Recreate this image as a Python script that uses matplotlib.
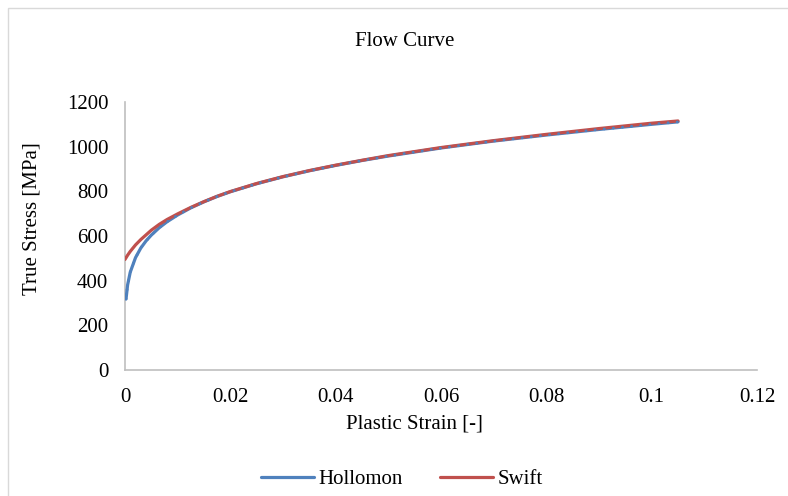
import matplotlib
matplotlib.use("Agg")
import matplotlib.pyplot as plt
from matplotlib.patches import Rectangle

plt.rcParams['font.family'] = ['Liberation Serif', 'DejaVu Serif']

title = "Flow Curve"
x_label = "Plastic Strain [-]"
y_label = "True Stress [MPa]"
series_names = ["Hollomon", "Swift"]

hollomon_strain = [0.0002, 0.0005, 0.001, 0.002, 0.003, 0.004, 0.005, 0.0065, 0.008, 0.01,
                   0.0125, 0.015, 0.0175, 0.02, 0.025, 0.03, 0.035, 0.04, 0.045, 0.05,
                   0.06, 0.07, 0.08, 0.09, 0.1, 0.105]
hollomon_stress = [318, 381, 438, 503, 546, 578, 604, 637, 664, 694,
                   726, 753, 777, 798, 834, 865, 892, 916, 938, 958,
                   994, 1025, 1052, 1077, 1100, 1111]

swift_strain = [0.0, 0.0005, 0.001, 0.002, 0.003, 0.004, 0.005, 0.0065, 0.008, 0.01,
                0.0125, 0.015, 0.0175, 0.02, 0.025, 0.03, 0.035, 0.04, 0.045, 0.05,
                0.06, 0.07, 0.08, 0.09, 0.1, 0.105]
swift_stress = [495, 514, 531, 560, 584, 605, 626, 652, 674, 699,
                728, 754, 778, 799, 835, 866, 893, 917, 939, 960,
                996, 1027, 1055, 1081, 1105, 1115]

x_ticks = [0, 0.02, 0.04, 0.06, 0.08, 0.1, 0.12]
x_tick_labels = ["0", "0.02", "0.04", "0.06", "0.08", "0.1", "0.12"]
y_ticks = [0, 200, 400, 600, 800, 1000, 1200]

blue = "#4F81BD"
red = "#C0504D"
fs = 15

fig = plt.figure(figsize=(7.88, 4.96), dpi=100)
ax = fig.add_axes([0.1586, 0.254, 0.8021, 0.5404])

ax.plot(hollomon_strain, hollomon_stress, color=blue, lw=2.3, solid_capstyle='round',
        label=series_names[0], zorder=3)
ax.plot(swift_strain, swift_stress, color=red, lw=2.3, solid_capstyle='round',
        label=series_names[1], zorder=4)
ax.plot(hollomon_strain, hollomon_stress, color=blue, lw=2.0, linestyle=(0, (0.1, 3.2)),
        dash_capstyle='round', zorder=5)

ax.set_xlim(0, 0.12)
ax.set_ylim(0, 1200)
ax.set_xticks(x_ticks)
ax.set_xticklabels(x_tick_labels)
ax.set_yticks(y_ticks)
ax.tick_params(length=0, labelsize=fs, colors='black')
ax.tick_params(axis='x', pad=13)
ax.tick_params(axis='y', pad=12)
for s in ['top', 'right']:
    ax.spines[s].set_visible(False)
for s in ['left', 'bottom']:
    ax.spines[s].set_color('#BFBFBF')
    ax.spines[s].set_linewidth(1.2)

fig.text(414/788, 1 - 424/496, x_label, ha='center', va='center', fontsize=fs)
fig.text(32/788, 1 - 219/496, y_label, ha='center', va='center', fontsize=fs, rotation=90)
fig.text(405/788, 1 - 42/496, title, ha='center', va='center', fontsize=fs)

leg = fig.legend(loc='center', bbox_to_anchor=(402/788, 0.034), ncol=2, frameon=False,
                 fontsize=fs, handlelength=2.55, handletextpad=0.2, columnspacing=1.8)

fig.patches.append(Rectangle((8/788, -0.01), 1.0, 1 - 8/496 + 0.01, transform=fig.transFigure,
                             fill=False, edgecolor='#D9D9D9', lw=1.0))

fig.savefig("out.png", dpi=100)
